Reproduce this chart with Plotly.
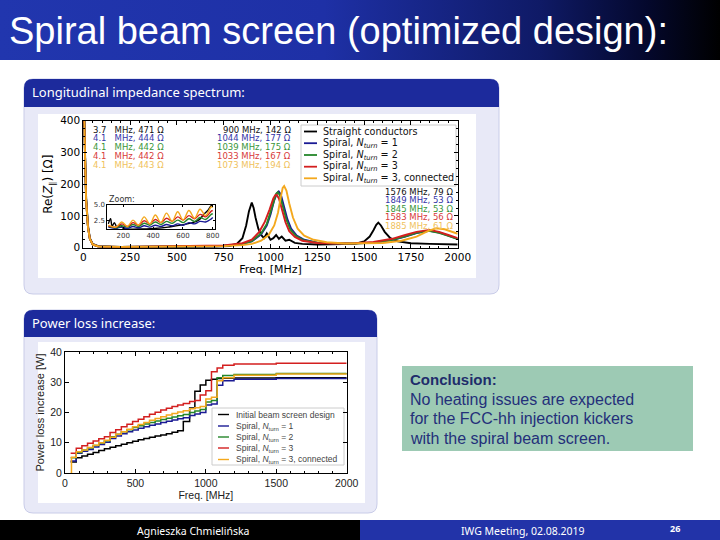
import plotly.graph_objects as go

W, H = 720, 540

# ---------------- longitudinal impedance spectrum ----------------
names_z = ["Straight conductors",
           "Spiral, <i>N</i><sub><i>turn</i></sub> = 1",
           "Spiral, <i>N</i><sub><i>turn</i></sub> = 2",
           "Spiral, <i>N</i><sub><i>turn</i></sub> = 3",
           "Spiral, <i>N</i><sub><i>turn</i></sub> = 3, connected"]
colors = ["#000000", "#1a1a94", "#24862a", "#d31f1f", "#f4a81d"]
label_colors = ["#111111", "#3535a8", "#3a963a", "#d83a3a", "#f0c25c"]

f_straight = [2, 3.7, 8, 15, 25, 35, 50, 80, 150, 300, 500, 700, 780, 820, 850, 870, 885, 900, 910,
              920, 935, 950, 965, 980, 1000, 1015, 1030, 1045, 1060, 1080, 1100, 1130, 1170, 1250,
              1350, 1450, 1500, 1530, 1550, 1565, 1576, 1590, 1610, 1640, 1680, 1750, 1850, 2000]
z_straight = [380, 471, 330, 160, 70, 30, 12, 5, 3, 2, 2, 3, 5, 12, 30, 70, 115, 142, 125,
              95, 60, 40, 30, 45, 25, 30, 40, 28, 35, 22, 25, 15, 12, 10,
              10, 12, 20, 35, 55, 72, 79, 70, 50, 30, 20, 14, 12, 10]

f_n1 = [2, 4.1, 8, 15, 25, 35, 50, 80, 200, 400, 600, 750, 850, 900, 950, 980, 1000, 1020, 1035,
        1044, 1055, 1070, 1090, 1110, 1140, 1180, 1250, 1350, 1450, 1550, 1650, 1720, 1780, 1849,
        1900, 1950, 2000]
z_n1 = [390, 444, 320, 150, 65, 28, 10, 4, 2, 3, 4, 6, 12, 20, 42, 70, 105, 150, 172,
        177, 168, 135, 90, 60, 38, 25, 16, 13, 13, 16, 24, 35, 46, 53,
        48, 38, 28]

f_n2 = [2, 4.1, 8, 15, 25, 35, 50, 80, 200, 400, 600, 750, 850, 900, 950, 980, 1000, 1020, 1030,
        1039, 1050, 1065, 1085, 1105, 1135, 1175, 1250, 1350, 1450, 1550, 1650, 1720, 1780, 1845,
        1900, 1950, 2000]
z_n2 = [390, 442, 318, 150, 64, 28, 10, 4, 2, 3, 4, 6, 12, 21, 45, 75, 112, 155, 170,
        175, 165, 132, 88, 58, 37, 24, 16, 13, 13, 16, 25, 36, 47, 53,
        47, 37, 27]

f_n3 = [2, 4.1, 8, 15, 25, 35, 50, 80, 200, 400, 600, 750, 850, 900, 940, 970, 995, 1015, 1025,
        1033, 1045, 1060, 1080, 1100, 1130, 1170, 1250, 1350, 1450, 1550, 1650, 1720, 1780, 1850,
        1900, 1950, 2000]
z_n3 = [390, 442, 318, 150, 64, 28, 10, 4, 2, 3, 4, 7, 14, 25, 50, 82, 120, 155, 165,
        167, 155, 120, 80, 52, 34, 22, 15, 13, 14, 18, 28, 40, 50, 56,
        50, 40, 30]

f_conn = [2, 4.1, 8, 15, 25, 35, 50, 80, 200, 400, 600, 750, 850, 900, 950, 990, 1020, 1040, 1055,
          1065, 1073, 1085, 1100, 1120, 1145, 1180, 1230, 1300, 1400, 1500, 1600, 1700, 1780, 1840,
          1885, 1930, 1970, 2000]
z_conn = [400, 443, 320, 150, 64, 28, 10, 4, 2, 3, 4, 5, 8, 12, 22, 40, 70, 110, 160,
          188, 194, 180, 140, 95, 60, 38, 25, 17, 13, 13, 15, 22, 35, 52,
          61, 58, 50, 44]

# zoom inset (100-800 MHz)
f_zoom = [100, 150, 190, 228, 265, 302, 340, 378, 415, 452, 490, 528, 565, 602, 640, 678, 715, 752, 790, 800]
zz_n1 = [1.5, 1.3, 1.5, 1.3, 1.6, 1.4, 1.7, 1.5, 1.8, 1.6, 1.9, 1.7, 2.0, 1.8, 2.2, 2.0, 2.4, 2.3, 2.8, 3.0]
zz_n2 = [1.6, 1.4, 1.7, 1.5, 1.9, 1.6, 2.1, 1.8, 2.3, 1.9, 2.4, 2.1, 2.6, 2.2, 2.8, 2.4, 3.0, 2.7, 3.5, 3.6]
zz_n3 = [1.7, 1.5, 2.0, 1.6, 2.2, 1.8, 2.5, 2.0, 2.7, 2.2, 2.9, 2.4, 3.1, 2.6, 3.3, 2.8, 3.5, 3.1, 4.0, 4.1]
zz_conn = [1.8, 1.5, 2.3, 1.6, 2.6, 1.8, 3.1, 2.0, 3.4, 2.2, 3.7, 2.4, 3.9, 2.6, 4.1, 2.9, 4.3, 3.3, 4.7, 4.6]
f_zoom_straight = [100, 115, 125, 140, 160, 180, 200, 300, 500, 700, 740, 770, 790, 800]
zz_straight = [2.0, 2.8, 1.6, 2.2, 1.4, 1.9, 1.3, 1.2, 1.5, 2.5, 3.5, 4.2, 4.9, 5.0]

# peak labels
low_f = ["3.7", "4.1", "4.1", "4.1", "4.1"]
low_z = [471, 444, 442, 442, 443]
mid_f = [900, 1044, 1039, 1033, 1073]
mid_z = [142, 177, 175, 167, 194]
high_f = [1576, 1849, 1845, 1583, 1885]
high_z = [79, 53, 53, 56, 61]

# ---------------- power loss increase (cumulative) ----------------
names_p = ["Initial beam screen design",
           "Spiral, <i>N</i><sub>turn</sub> = 1",
           "Spiral, <i>N</i><sub>turn</sub> = 2",
           "Spiral, <i>N</i><sub>turn</sub> = 3",
           "Spiral, <i>N</i><sub>turn</sub> = 3, connected"]
f_p = [40, 80, 120, 160, 200, 240, 280, 320, 360, 400, 440, 480, 520, 560, 600, 640, 680, 720,
       760, 800, 840, 885, 922, 960, 1000, 1040, 1080, 1120, 1200, 1500, 2000]
p_initial = [3.6, 5.0, 5.6, 6.2, 6.8, 7.4, 8.0, 8.5, 9.0, 9.5, 10.0, 10.5, 11.0, 11.4, 11.8, 12.2,
             12.6, 13.0, 13.5, 14.0, 17.0, 21.5, 27.0, 29.1, 30.7, 31.0, 31.2, 31.3, 31.4, 31.5, 31.6]
p_n1 = [4.0, 6.5, 7.2, 7.8, 8.6, 9.4, 10.2, 11.4, 12.2, 13.0, 13.6, 14.2, 14.8, 15.3, 15.8, 16.2,
        16.7, 17.1, 17.5, 17.9, 18.3, 19.0, 19.5, 20.0, 22.5, 22.8, 29.0, 30.5, 31.0, 31.2, 31.3]
p_n2 = [5.0, 6.8, 7.6, 8.3, 9.1, 9.9, 10.7, 12.0, 12.8, 13.6, 14.3, 15.0, 15.6, 16.2, 16.7, 17.2,
        17.7, 18.1, 18.5, 18.9, 19.3, 20.0, 20.5, 21.0, 23.5, 24.0, 31.5, 32.2, 32.6, 32.9, 33.0]
p_n3 = [6.5, 8.2, 9.0, 9.8, 10.6, 11.3, 12.0, 13.4, 14.3, 15.3, 16.1, 17.0, 17.8, 18.6, 19.4, 20.1,
        20.8, 21.4, 22.0, 22.5, 23.0, 23.6, 24.0, 25.8, 27.2, 33.5, 34.7, 35.6, 36.0, 36.3, 36.3]
f_p_conn = [40, 46] + f_p[1:]
p_conn = [0.0, 5.2, 7.0, 7.6, 8.4, 9.2, 10.0, 10.8, 11.8, 12.8, 13.6, 14.5, 15.3, 16.0, 16.7, 17.4,
          18.0, 18.6, 19.2, 19.7, 20.2, 20.6, 21.2, 21.6, 22.0, 24.5, 25.0, 30.5, 31.5, 32.3, 32.7, 32.8]

conclusion = ["Conclusion:", "No heating issues are expected",
              "for the FCC-hh injection kickers", "with the spiral beam screen."]

fig = go.Figure()

# slide title bar (background axes in pixel units)
fig.add_trace(go.Scatter(x=[0, W, W, 0, 0], y=[0, 0, 60, 60, 0], fill="toself", mode="lines",
                         line=dict(width=0), hoverinfo="skip", showlegend=False,
                         fillgradient=dict(type="horizontal",
                                           colorscale=[[0, "#2136ae"], [0.45, "#1e30a6"],
                                                       [0.75, "#0f1a66"], [0.9, "#04082c"],
                                                       [1, "#000000"]]),
                         xaxis="x", yaxis="y"))

zf = [f_straight, f_n1, f_n2, f_n3, f_conn]
zv = [z_straight, z_n1, z_n2, z_n3, z_conn]
for i in range(5):
    fig.add_trace(go.Scatter(x=zf[i], y=zv[i], mode="lines", line=dict(color=colors[i], width=1.9),
                             showlegend=False, xaxis="x2", yaxis="y2"))

zoom_f = [f_zoom_straight, f_zoom, f_zoom, f_zoom, f_zoom]
zoom_v = [zz_straight, zz_n1, zz_n2, zz_n3, zz_conn]
for i in range(5):
    fig.add_trace(go.Scatter(x=zoom_f[i], y=zoom_v[i], mode="lines",
                             line=dict(color=colors[i], width=1.4, shape="spline"),
                             showlegend=False, xaxis="x3", yaxis="y3"))

pf = [f_p, f_p, f_p, f_p, f_p_conn]
pv = [p_initial, p_n1, p_n2, p_n3, p_conn]
for i in range(5):
    fig.add_trace(go.Scatter(x=pf[i], y=pv[i], mode="lines", line=dict(color=colors[i], width=1.5, shape="hv"),
                             showlegend=False, xaxis="x4", yaxis="y4"))


def dom_x(a, b):
    return [a / W, b / W]


def dom_y(top, bottom):
    return [1 - bottom / H, 1 - top / H]


def rpath(x0, y0, x1, y1, r, top_only=False):
    p = f"M {x0 + r} {y0} L {x1 - r} {y0} Q {x1} {y0} {x1} {y0 + r} "
    if top_only:
        p += f"L {x1} {y1} L {x0} {y1} "
    else:
        p += f"L {x1} {y1 - r} Q {x1} {y1} {x1 - r} {y1} L {x0 + r} {y1} Q {x0} {y1} {x0} {y1 - r} "
    p += f"L {x0} {y0 + r} Q {x0} {y0} {x0 + r} {y0} Z"
    return p


frame = dict(showgrid=False, zeroline=False, showline=True, linecolor="black", linewidth=1,
             mirror="ticks", ticks="inside", tickcolor="black", ticklen=4, automargin=False)
dv = "DejaVu Sans"
ar = "Liberation Sans"

shapes = []
for (x0, y0, x1, y1, hb) in [(24, 79, 499, 294, 107), (24, 310, 377, 513, 337)]:
    shapes.append(dict(type="path", path=rpath(x0, y0, x1, y1, 9), fillcolor="#e8e9f7",
                       line=dict(color="#c9cce8", width=1)))
    shapes.append(dict(type="path", path=rpath(x0, y0, x1, hb, 9, top_only=True), fillcolor="#1c2a9c",
                       line=dict(width=0)))
shapes.append(dict(type="rect", x0=38, y0=114, x1=476, y1=278, fillcolor="white", line=dict(width=0)))
shapes.append(dict(type="rect", x0=38, y0=342, x1=365, y1=503, fillcolor="white", line=dict(width=0)))
# conclusion box
shapes.append(dict(type="rect", x0=402, y0=366, x1=693, y1=451, fillcolor="#9dcab4", line=dict(width=0)))
# footer
shapes.append(dict(type="rect", x0=0, y0=520, x1=360, y1=540, fillcolor="#000000", line=dict(width=0)))
shapes.append(dict(type="rect", x0=360, y0=520, x1=720, y1=540, fillcolor="#2233a8", line=dict(width=0)))
# legend boxes
shapes.append(dict(type="rect", x0=301, y0=125, x1=456, y1=186, fillcolor="white",
                   line=dict(color="#cccccc", width=1)))
shapes.append(dict(type="rect", x0=212, y0=408, x1=344, y1=465, fillcolor="white",
                   line=dict(color="#cccccc", width=1)))
leg1_y = [131.5, 143.2, 155, 166.7, 178.3]
leg2_y = [414.5, 426, 437, 448, 459.5]
for i in range(5):
    shapes.append(dict(type="line", x0=304, x1=317, y0=leg1_y[i], y1=leg1_y[i],
                       line=dict(color=colors[i], width=1.8)))
    shapes.append(dict(type="line", x0=218, x1=229, y0=leg2_y[i], y1=leg2_y[i],
                       line=dict(color=colors[i], width=1.4)))
for s in shapes:
    s.update(xref="x", yref="y", layer="below")


def txt(x, y, s, size, color, family=dv, xanchor="left"):
    return dict(x=x, y=y, xref="x", yref="y", text=s, showarrow=False, xanchor=xanchor,
                yanchor="middle", font=dict(family=family, size=size, color=color))


ann = [txt(7, 31, "Spiral beam screen (optimized design):", 38, "white", ar),
       txt(30, 92, "Longitudinal impedance spectrum:", 13, "white", "Noto Sans"),
       txt(30, 323, "Power loss increase:", 13, "white", "Noto Sans"),
       txt(193, 531, "Agnieszka Chmielińska", 10.5, "white", "Noto Sans", "center"),
       txt(523, 531, "IWG Meeting, 02.08.2019", 10.5, "white", "Noto Sans", "center"),
       txt(675, 528, "<b>26</b>", 9, "white", "Noto Sans", "center"),
       txt(107, 199, "Zoom:", 8, "#333333")]
ann.append(txt(408, 379, "<b>" + conclusion[0] + "</b>", 15, "#1f2d6b", ar))
for k, line in enumerate(conclusion[1:]):
    ann.append(txt(408, 399 + 19.5 * k, line, 16, "#24307a", ar))
for i in range(5):
    ann.append(txt(91, 129.5 + 8.8 * i, f"{low_f[i]}\u00a0\u00a0\u00a0MHz, {low_z[i]} Ω", 8.5, label_colors[i]))
    ann.append(txt(293, 129.5 + 8.8 * i, f"{mid_f[i]} MHz, {mid_z[i]} Ω", 8.5, label_colors[i], xanchor="right"))
    ann.append(txt(455, 191.5 + 8.6 * i, f"{high_f[i]} MHz, {high_z[i]} Ω", 8.5, label_colors[i], xanchor="right"))
    ann.append(txt(321, leg1_y[i], names_z[i], 9.6, "#111111"))
    ann.append(txt(234, leg2_y[i], names_p[i], 8.5, "#444444", ar))

fig.update_layout(
    width=W, height=H, margin=dict(l=0, r=0, t=0, b=0, autoexpand=False),
    paper_bgcolor="white", plot_bgcolor="rgba(0,0,0,0)",
    xaxis=dict(domain=[0, 1], range=[0, W], visible=False, fixedrange=True, automargin=False),
    yaxis=dict(domain=[0, 1], range=[H, 0], visible=False, fixedrange=True, automargin=False),
    xaxis2=dict(frame, domain=dom_x(83.3, 457.7), range=[0, 2000], anchor="y2",
                tickvals=[0, 250, 500, 750, 1000, 1250, 1500, 1750, 2000],
                minor=dict(ticks="inside", ticklen=2, dtick=50, tickcolor="black"),
                tickfont=dict(family=dv, size=10.5, color="black"),
                title=dict(text="Freq. [MHz]", font=dict(family=dv, size=11, color="black"), standoff=2)),
    yaxis2=dict(frame, domain=dom_y(120.7, 247.7), range=[0, 400], anchor="x2", dtick=100,
                minor=dict(ticks="inside", ticklen=2, dtick=25, tickcolor="black"),
                tickfont=dict(family=dv, size=10.5, color="black"),
                title=dict(text="Re(<i>Z</i><sub>∥</sub>) [Ω]", font=dict(family=dv, size=12, color="black"),
                           standoff=4)),
    xaxis3=dict(frame, domain=dom_x(107.3, 215), range=[93, 815], anchor="y3",
                tickvals=[200, 400, 600, 800], ticklen=2,
                tickfont=dict(family=dv, size=7, color="#333333")),
    yaxis3=dict(frame, domain=dom_y(204.5, 229), range=[1.2, 5.05], anchor="x3",
                tickvals=[2.5, 5.0], ticktext=["2.5", "5.0"], ticklen=2,
                tickfont=dict(family=dv, size=7, color="#333333")),
    xaxis4=dict(frame, domain=dom_x(65, 346.7), range=[0, 2000], anchor="y4", dtick=500,
                minor=dict(ticks="inside", ticklen=2, dtick=100, tickcolor="black"),
                tickfont=dict(family=ar, size=10.5, color="#222222"),
                title=dict(text="Freq. [MHz]", font=dict(family=ar, size=10.5, color="#222222"), standoff=2)),
    yaxis4=dict(frame, domain=dom_y(352, 473), range=[0, 40], anchor="x4", dtick=10,
                tickfont=dict(family=ar, size=10.5, color="#222222"),
                title=dict(text="Power loss increase [W]", font=dict(family=ar, size=11, color="#222222"),
                           standoff=3)),
    shapes=shapes, annotations=ann, showlegend=False,
)

# drop the default page margin so the 720x540 figure fills the window
fig.write_html("out.html", config={"displayModeBar": False},
               post_script="document.body.style.margin='0';document.body.style.overflow='hidden';")
